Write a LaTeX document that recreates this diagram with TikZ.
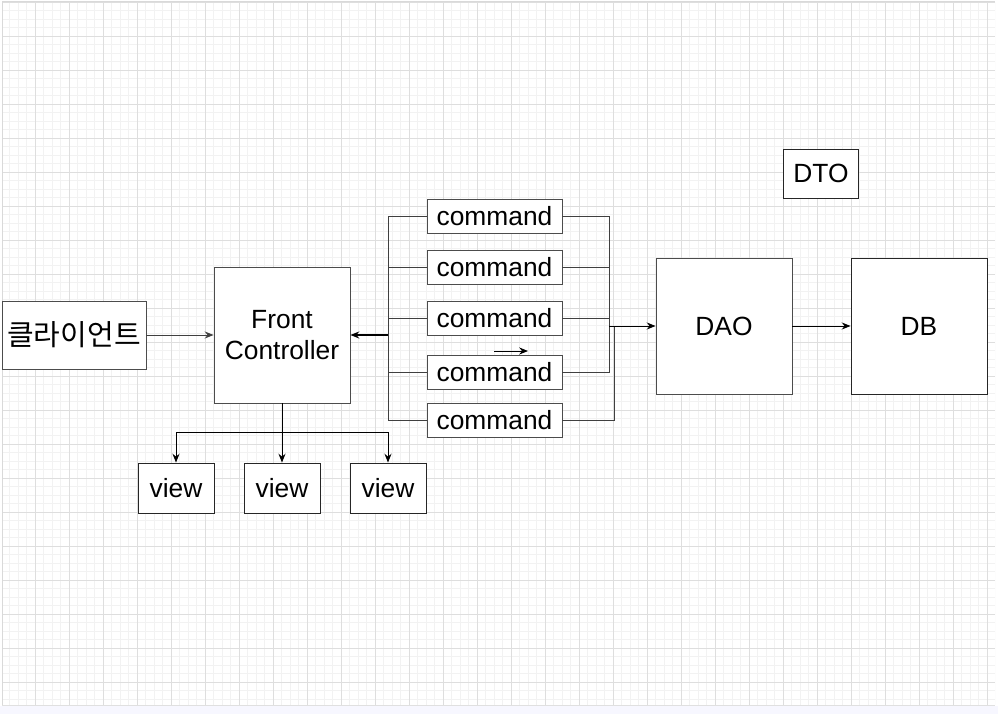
\documentclass[tikz,border=0pt]{standalone}
\usepackage{fontspec}
\setmainfont{Liberation Sans}
\newfontfamily\krfont{Noto Sans CJK KR}
\usetikzlibrary{arrows.meta}

\tikzset{
  box/.style={draw=black!70, fill=white, inner sep=0pt, align=center, line width=0.55pt,
    font=\fontsize{15pt}{18pt}\selectfont},
  cmdbox/.style={box, minimum width=2.7cm, minimum height=0.68cm},
  viewbox/.style={box, draw=black!85, minimum width=1.52cm, minimum height=1cm},
  bigbox/.style={box, minimum width=2.72cm, minimum height=2.72cm},
  wire/.style={draw=black!75, line width=0.55pt},
  arr/.style={wire, -{Stealth[length=5pt,width=4pt]}},
  minorline/.style={draw=black!5, line width=0.4pt},
  majorline/.style={draw=black!13, line width=0.5pt}
}

\begin{document}
\begin{tikzpicture}[x=0.02cm,y=-0.02cm]
\useasboundingbox (0,0) rectangle (998,714);
\fill [white] (0,0) rectangle (998,714);
\fill [blue!3!white] (0,706) rectangle (998,714);

%------------ grid
\begin{scope}
\clip (2,2) rectangle (995,705);
\foreach \i in {0,...,117} \draw [minorline] ({1+8.5*\i},2) -- ({1+8.5*\i},705);
\foreach \j in {0,...,83} \draw [minorline] (2,{2+8.5*\j}) -- (995,{2+8.5*\j});
\foreach \i in {0,...,29} \draw [majorline] ({1+34*\i},2) -- ({1+34*\i},705);
\foreach \j in {0,...,20} \draw [majorline] (2,{2+34*\j}) -- (995,{2+34*\j});
\end{scope}
\draw [black!15] (2,705) -- (2,1) -- (995,1);
\draw [black!12] (2,705) -- (995,705);

%------------ nodes
\node [box, minimum width=2.88cm, minimum height=1.36cm, font=\krfont\fontsize{16.5pt}{18pt}\selectfont] (client) at (74,335) {클라이언트};
\node [bigbox] (fc) at (282,335) {Front\\Controller};
\node [cmdbox] (cmd1) at (494.5,216) {command};
\node [cmdbox] (cmd2) at (494.5,267) {command};
\node [cmdbox] (cmd3) at (494.5,318) {command};
\node [cmdbox] (cmd4) at (494.5,372) {command};
\node [cmdbox] (cmd5) at (494.5,420) {command};
\node [bigbox] (dao) at (724,326) {DAO};
\node [bigbox, draw=black!85] (db) at (919,326) {DB};
\node [box, draw=black!85, minimum width=1.5cm, minimum height=0.98cm] (dto) at (821,173.5) {DTO};
\node [viewbox] (v1) at (176,488) {view};
\node [viewbox] (v2) at (282,488) {view};
\node [viewbox] (v3) at (388,488) {view};

%------------ connectors
\draw [arr] (client) -- (fc);

\coordinate (lt) at (388,216);
\coordinate (lb) at (388,420);
\draw [wire] (cmd1.west) -- (lt) -- (lb) -- (cmd5.west);
\foreach \c in {cmd2,cmd3,cmd4} \draw [wire] (\c.west) -- (\c.west -| lt);
\draw [arr, thick, draw=black] (lt |- fc.east) -- (fc.east);

\coordinate (rt) at (609,216);
\coordinate (rj) at (614,326);
\draw [wire] (cmd1.east) -- (rt) |- (cmd4.east);
\foreach \c in {cmd2,cmd3} \draw [wire] (\c.east) -- (\c.east -| rt);
\draw [wire] (cmd5.east) -| (rj);
\draw [arr, draw=black] (rt |- dao.west) -- (dao.west);
\draw [arr, draw=black] (dao) -- (db);

\coordinate (s1) at (494,351);
\coordinate (s2) at (528,351);
\draw [arr, draw=black] (s1) -- (s2);

\coordinate (vj) at (282,432);
\draw [wire, draw=black] (fc.south) -- (vj);
\draw [wire, draw=black] (vj -| v1) -- (vj -| v3);
\foreach \v in {v1,v2,v3} \draw [arr, draw=black] (vj -| \v) -- (\v.north);
\end{tikzpicture}
\end{document}
